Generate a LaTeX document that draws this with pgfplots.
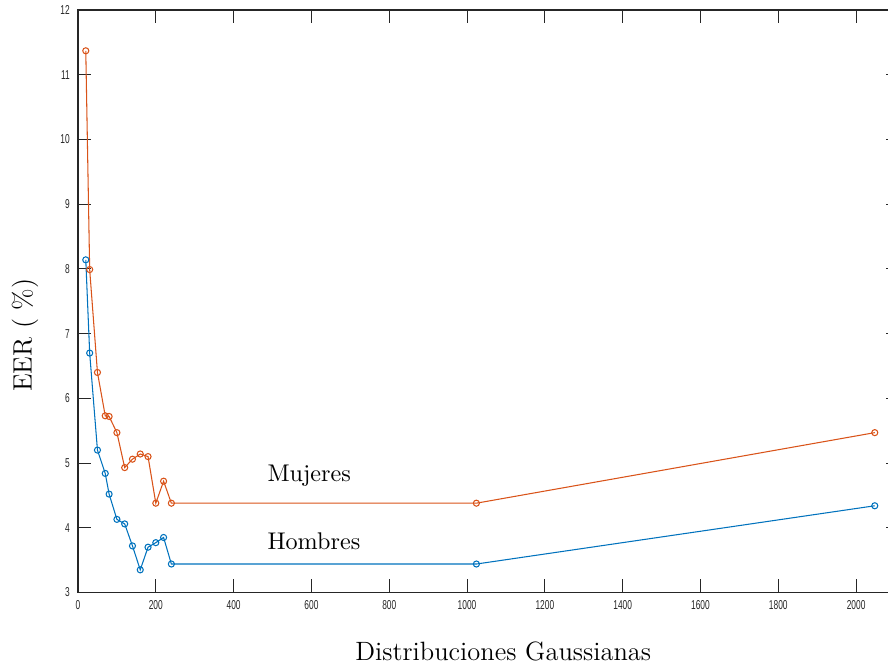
\documentclass[border=0pt]{standalone}
\usepackage{pgfplots}
\usepackage{fontspec}
\pgfplotsset{compat=1.18}
\newfontfamily\tickfont[FakeStretch=0.65]{Liberation Sans}
\definecolor{mlblue}{rgb}{0,0.447,0.741}
\definecolor{mlorange}{rgb}{0.85,0.325,0.098}
\definecolor{axgray}{rgb}{0.15,0.15,0.15}

\begin{document}
\begin{tikzpicture}
\begin{axis}[
  scale only axis,
  width=12.31cm, height=8.735cm,
  xmin=0, xmax=2110,
  ymin=3, ymax=12,
  xtick={0,200,...,2000},
  ytick={3,4,...,12},
  tick align=inside,
  major tick length=0.195cm,
  axis line style={axgray, line width=0.5pt},
  every tick/.style={axgray, line width=0.4pt},
  tick label style={font=\tickfont\fontsize{5.5}{6}\selectfont, text=axgray},
  /pgf/number format/assume math mode=true,
  /pgf/number format/1000 sep={},
  xlabel={Distribuciones Gaussianas},
  ylabel={EER ( \%)},
  label style={font=\fontsize{11.3}{13}\selectfont},
  xlabel style={at={(axis description cs:0.518,-0.101)}, anchor=center},
  ylabel style={at={(axis description cs:-0.0645,0.442)}, anchor=center, rotate=0},
  clip=false,
]
\addplot[mlorange, line width=0.45pt, mark=o, mark size=1.3pt] coordinates {
  (20,11.37) (30,7.99) (50,6.40) (70,5.73) (80,5.72) (100,5.47) (120,4.93)
  (140,5.06) (160,5.14) (180,5.10) (200,4.38) (220,4.72) (240,4.38)
  (1024,4.38) (2048,5.47)
};
\addplot[mlblue, line width=0.45pt, mark=o, mark size=1.3pt] coordinates {
  (20,8.14) (30,6.70) (50,5.20) (70,4.84) (80,4.52) (100,4.13) (120,4.06)
  (140,3.72) (160,3.35) (180,3.70) (200,3.77) (220,3.85) (240,3.44)
  (1024,3.44) (2048,4.34)
};
\node[anchor=base west, inner sep=0pt, font=\fontsize{10.3}{12}\selectfont] at (axis cs:486,4.71) {Mujeres};
\node[anchor=base west, inner sep=0pt, font=\fontsize{10.3}{12}\selectfont] at (axis cs:486,3.665) {Hombres};
\coordinate (bbl) at (axis cs:-200.5,1.856);
\coordinate (btr) at (axis cs:2082,12.155);
\end{axis}
\pgfresetboundingbox
\useasboundingbox (bbl) rectangle (btr);
\end{tikzpicture}
\end{document}
